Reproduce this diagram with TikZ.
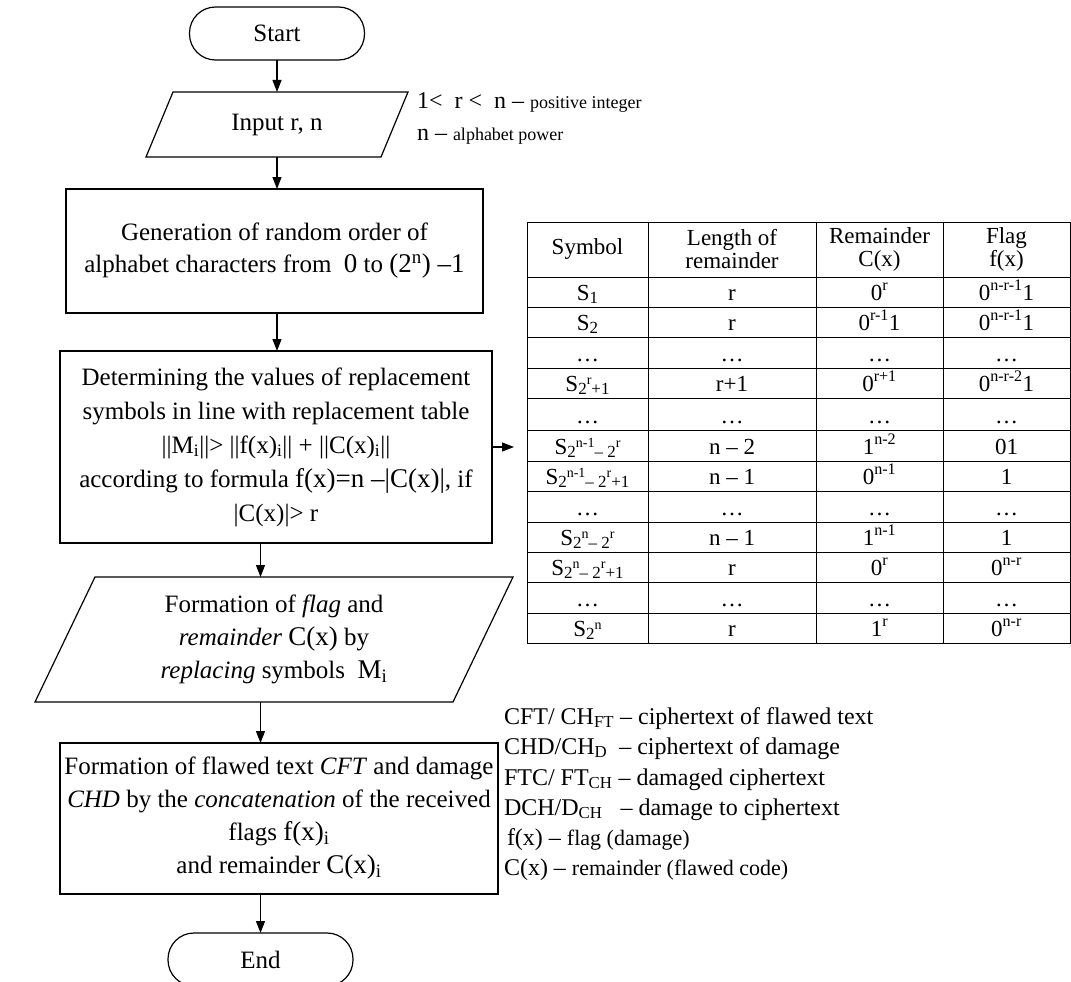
\documentclass[tikz,border=0pt]{standalone}
\usepackage{fontspec}
\setmainfont{Liberation Serif}
\usetikzlibrary{arrows.meta}
\newcommand\fsz[2]{\fontsize{#1}{#2}\selectfont}
% index helpers for the table: a lowered index and a raised exponent on it
\newcommand\lo[1]{\raisebox{-3pt}{\fsz{17}{17}#1}}
\newcommand\hi[1]{\raisebox{10pt}{\fsz{14}{14}#1}}
\begin{document}
\begin{tikzpicture}[x=1pt,y=-1pt,
  every node/.style={inner sep=0pt, outer sep=0pt},
  line/.style={line width=1.2pt},
  grid/.style={line width=1pt},
  arr/.style={line width=1.2pt, -{Triangle[length=12pt,width=9pt]}},
  term/.style={draw, line width=1.2pt, rounded corners=26pt,
    minimum width=175pt, minimum height=53pt, font=\fsz{25}{30}},
  procbox/.style={draw, line width=1.2pt, align=center},
  io/.style={align=center},
  cell/.style={anchor=base, font=\fsz{23}{24}},
  head/.style={align=center, font=\fsz{23}{23}},
  legend/.style={anchor=base west, font=\fsz{24}{30}}
]
\useasboundingbox (0,0) rectangle (1071,982);

% ---- flowchart ----
\node[term] (start) at (277,33.5) {Start};

\node[io, minimum width=235pt, minimum height=65pt, font=\fsz{25}{30}] (inp) at (277,124.5) {Input r, n};
\draw[line] ([xshift=13.5pt]inp.north west) -- ([xshift=13.5pt]inp.north east)
  -- ([xshift=-13.5pt]inp.south east) -- ([xshift=-13.5pt]inp.south west) -- cycle;

\node[procbox, minimum width=417pt, minimum height=124pt, font=\fsz{25}{32}] (gen) at (274.5,251)
  {Generation of random order of\\alphabet characters from\ \ {\fsz{27}{32}0} to {\fsz{27}{32}(2\textsuperscript{n}) –1}};

\node[procbox, minimum width=432pt, minimum height=192pt, font=\fsz{25}{34}] (det) at (276,447)
  {Determining the values of replacement\\
   symbols in line with replacement table\\
   ||M\textsubscript{i}||> ||f(x)\textsubscript{i}|| + ||C(x)\textsubscript{i}||\\
   according to formula {\fsz{27}{34}f(x)=n –|C(x)|}, if\\
   |C(x)|> r};

\node[io, minimum width=418pt, minimum height=125pt, font=\fsz{25}{33}] (fpar) at (274,639.5)
  {Formation of \textit{flag} and\\
   \textit{remainder} {\fsz{27}{33}C(x)} by\\
   \textit{replacing} symbols\ \ {\fsz{27}{33}M\textsubscript{i}}};
\draw[line] ([xshift=30pt]fpar.north west) -- ([xshift=30pt]fpar.north east)
  -- ([xshift=-30pt]fpar.south east) -- ([xshift=-30pt]fpar.south west) -- cycle;

\node[procbox, minimum width=438pt, minimum height=151pt, font=\fsz{25}{33}] (fbox) at (279,818.5)
  {Formation of flawed text \textit{CFT} and damage\\
   \textit{CHD} by the \textit{concatenation} of the received\\
   flags {\fsz{27}{33}f(x)\textsubscript{i}}\\
   and remainder {\fsz{27}{33}C(x)\textsubscript{i}}};

\node[term, minimum width=185pt] (endn) at (260.5,959.5) {End};

\draw[arr] (start.south) -- (start.south |- inp.north);
\draw[arr] (inp.south) -- (inp.south |- gen.north);
\draw[arr] (gen.south -| start) -- (det.north -| start);
\draw[arr] (det.south -| endn) -- (fpar.north -| endn);
\draw[arr] (fpar.south -| endn) -- (fbox.north -| endn);
\draw[arr] (fbox.south -| endn) -- (endn.north);

% ---- replacement table ----
\node[draw, grid, anchor=north west, minimum width=543pt, minimum height=421pt] (tab) at (527,222) {};
\foreach \yy in {277,307,337,368,398,430,461,491,522,552,582,613}
  \draw[grid] (527,\yy) -- (1070,\yy);
\foreach \xx in {648,816,943}
  \draw[grid] (\xx,222) -- (\xx,643);

\draw[arr, shorten >=13pt] (det.east) -- (det.east -| tab.west);

\node[head] (h1) at (587.5,249.5) {Symbol};
\node[head] (h2) at (732,249.5) {Length of\\remainder};
\node[head] (h3) at (879.5,249.5) {Remainder\\C(x)};
\node[head] (h4) at (1006.5,249.5) {Flag\\f(x)};

\foreach \yy/\ca/\cb/\cc/\cd [count=\i] in {
  300/S\lo{1}/r/0\textsuperscript{r}/0\textsuperscript{n-r-1}1,
  330/S\lo{2}/r/0\textsuperscript{r-1}1/0\textsuperscript{n-r-1}1,
  361/…/…/…/…,
  391/S\lo{2\hi{r}+1}/r+1/0\textsuperscript{r+1}/0\textsuperscript{n-r-2}1,
  423/…/…/…/…,
  454/S\lo{2\hi{n-1}– 2\hi{r}}/n – 2/1\textsuperscript{n-2}/01,
  484/S\lo{2\hi{n-1}– 2\hi{r}+1}/n – 1/0\textsuperscript{n-1}/1,
  515/…/…/…/…,
  545/S\lo{2\hi{n}– 2\hi{r}}/n – 1/1\textsuperscript{n-1}/1,
  575/S\lo{2\hi{n}– 2\hi{r}+1}/r/0\textsuperscript{r}/0\textsuperscript{n-r},
  606/…/…/…/…,
  636/S\lo{2\hi{n}}/r/1\textsuperscript{r}/0\textsuperscript{n-r}} {
  \node[cell] (r\i a) at (587.5,\yy) {\ca};
  \node[cell] (r\i b) at (732,\yy) {\cb};
  \node[cell] (r\i c) at (879.5,\yy) {\cc};
  \node[cell] (r\i d) at (1006.5,\yy) {\cd};
}

% ---- notation ----
\node[anchor=base west, font=\fsz{24}{30}] (lr) at (417,108)
  {1<\ \ r <\ \ n – {\fsz{18}{24}positive integer}};
\node[anchor=base west, font=\fsz{24}{30}] (ln) at (417,140)
  {n – {\fsz{18}{24}alphabet power}};

\node[legend] (l1) at (504,724) {CFT/ CH\textsubscript{FT} – ciphertext of flawed text};
\node[legend] (l2) at (504,754) {CHD/CH\textsubscript{D}\ \ – ciphertext of damage};
\node[legend] (l3) at (504,785) {FTC/ FT\textsubscript{CH} – damaged ciphertext};
\node[legend] (l4) at (504,815) {DCH/D\textsubscript{CH}\ \ \ – damage to ciphertext};
\node[legend] (l5) at (507,845) {f(x) – {\fsz{22}{24}flag (damage)}};
\node[legend] (l6) at (504,875) {C(x) – {\fsz{22}{24}remainder (flawed code)}};
\end{tikzpicture}
\end{document}
